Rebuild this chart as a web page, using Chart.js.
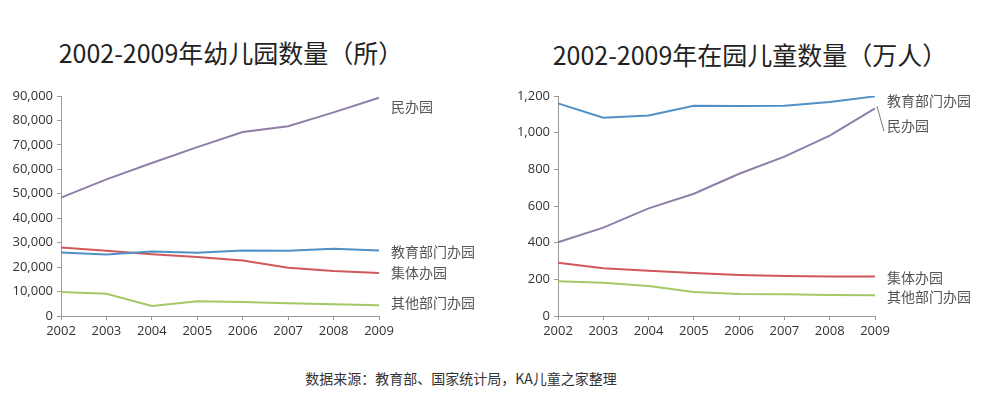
<!DOCTYPE html>
<html lang="zh">
<head>
<meta charset="UTF-8">
<title>2002-2009 幼儿园</title>
<script src="https://cdn.jsdelivr.net/npm/chart.js"></script>
<style>
    body { margin: 0; background: #fff; width: 1000px; height: 393px; position: relative; overflow: hidden; font-family: "Noto Sans CJK SC", sans-serif; }
    .title { position: absolute; font-size: 25px; color: #222; white-space: nowrap; transform: translateX(-50%); }
    .box { position: absolute; top: 80px; height: 265px; width: 500px; }
    .source { position: absolute; top: 368px; left: 461px; transform: translateX(-50%); font-size: 14px; color: #333; white-space: nowrap; }
</style>
</head>
<body>
<div class="title" style="left:231px; top:34px;">2002-2009年幼儿园数量（所）</div>
<div class="title" style="left:750px; top:36px;">2002-2009年在园儿童数量（万人）</div>
<div class="box" style="left:0;"><canvas id="left"></canvas></div>
<div class="box" style="left:500px;"><canvas id="right"></canvas></div>
<div class="source">数据来源：教育部、国家统计局，KA儿童之家整理</div>

<script>
// data
const years = ['2002', '2003', '2004', '2005', '2006', '2007', '2008', '2009'];

// 幼儿园数量（所）
const kgNames = ['民办园', '教育部门办园', '集体办园', '其他部门办园'];
const kgPrivate = [48400, 55900, 62600, 69100, 75300, 77600, 83300, 89300];
const kgEdu = [26000, 25200, 26400, 25900, 26800, 26700, 27500, 26800];
const kgCollective = [28000, 26700, 25300, 24100, 22700, 19700, 18400, 17600];
const kgOther = [9800, 9100, 4100, 6000, 5700, 5200, 4800, 4400];

// 在园儿童数量（万人）
const kidsNames = ['教育部门办园', '民办园', '集体办园', '其他部门办园'];
const kidsEdu = [1160, 1082, 1094, 1147, 1145, 1147, 1167, 1198];
const kidsPrivate = [402, 482, 587, 667, 776, 869, 984, 1133];
const kidsCollective = [291, 260, 247, 235, 224, 218, 216, 215];
const kidsOther = [189, 182, 164, 131, 120, 118, 115, 113];

const purple = '#8f7fa8', blue = '#4f90c6', red = '#d0585a', green = '#a3c865';

// end labels, drawn next to the last point of each line
const endLabels = {
    id: 'endLabels',
    afterDatasetsDraw(chart, args, opts) {
        const ctx = chart.ctx;
        ctx.save();
        ctx.font = '14px "Noto Sans CJK SC"';
        ctx.fillStyle = '#555';
        ctx.textBaseline = 'middle';
        chart.data.datasets.forEach((ds, i) => {
            const meta = chart.getDatasetMeta(i);
            const pt = meta.data[meta.data.length - 1];
            const dy = opts.dy[i];
            ctx.fillText(ds.label, pt.x + opts.dx, pt.y + dy);
            if (opts.leader && opts.leader[i]) {
                ctx.strokeStyle = '#777';
                ctx.lineWidth = 1;
                ctx.beginPath();
                ctx.moveTo(pt.x + 2, pt.y - 2);
                ctx.lineTo(pt.x + 9, pt.y + dy + 6);
                ctx.stroke();
            }
        });
        ctx.restore();
    }
};

function makeChart(id, names, data, colors, yMax, yStep, yWidth, padRight, labelOpts) {
    return new Chart(document.getElementById(id), {
        type: 'line',
        data: {
            labels: years,
            datasets: data.map((d, i) => ({
                label: names[i],
                data: d,
                borderColor: colors[i],
                borderWidth: 2,
                pointRadius: 0,
                tension: 0,
                fill: false
            }))
        },
        options: {
            responsive: true,
            maintainAspectRatio: false,
            animation: false,
            events: [],
            layout: { padding: { top: 16, right: padRight, left: 0, bottom: 0 } },
            plugins: {
                legend: { display: false },
                tooltip: { enabled: false },
                endLabels: labelOpts
            },
            scales: {
                x: {
                    offset: false,
                    grid: { drawOnChartArea: false, drawTicks: true, tickLength: 4, color: '#999' },
                    border: { color: '#999', width: 1 },
                    ticks: { color: '#333', font: { family: 'Open Sans', size: 13 }, maxRotation: 0, padding: 3 },
                    afterFit(scale) { scale.height = 29; }
                },
                y: {
                    min: 0,
                    max: yMax,
                    grid: { drawOnChartArea: false, drawTicks: true, tickLength: 4, color: '#999' },
                    border: { color: '#999', width: 1 },
                    ticks: {
                        stepSize: yStep,
                        color: '#333',
                        font: { family: 'Open Sans', size: 13 },
                        padding: 4,
                        callback: v => v.toLocaleString('en-US')
                    },
                    afterFit(scale) { scale.width = yWidth; }
                }
            }
        },
        plugins: [endLabels]
    });
}

makeChart('left', kgNames, [kgPrivate, kgEdu, kgCollective, kgOther], [purple, blue, red, green],
    90000, 10000, 61, 121, { dx: 12, dy: [9, 1, 0, -3] });
makeChart('right', kidsNames, [kidsEdu, kidsPrivate, kidsCollective, kidsOther], [blue, purple, red, green],
    1200, 200, 58, 125, { dx: 12, dy: [4, 17, 1, 1], leader: [false, true, false, false] });
</script>
</body>
</html>
